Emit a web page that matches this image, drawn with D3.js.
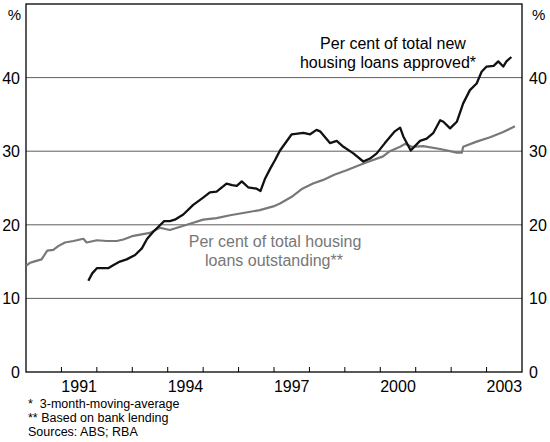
<!DOCTYPE html>
<html><head><meta charset="utf-8">
<script src="https://cdn.jsdelivr.net/npm/d3@7"></script>
<style>html,body{margin:0;padding:0;background:#fff;}svg{display:block;font-family:"Liberation Sans",Arial,sans-serif;}text{white-space:pre;}</style>
</head><body><svg id="c" width="550" height="442"></svg>
<script>
const outstandingDates = [1990.0,1990.1,1990.22,1990.44,1990.6,1990.77,1990.91,1991.1,1991.34,1991.62,1991.71,1992.0,1992.28,1992.56,1992.75,1993.03,1993.5,1993.78,1994.06,1994.54,1995.0,1995.38,1995.76,1996.13,1996.6,1996.98,1997.17,1997.5,1997.8,1998.1,1998.39,1998.7,1999.05,1999.35,1999.62,2000.08,2000.27,2000.56,2000.7,2000.89,2001.21,2001.69,2002.16,2002.3,2002.34,2002.72,2003.1,2003.47,2003.8];
const outstandingValues = [14.4,14.8,15.0,15.3,16.5,16.6,17.1,17.6,17.8,18.1,17.6,17.9,17.8,17.8,18.0,18.5,18.9,19.6,19.3,20.0,20.7,20.9,21.3,21.6,22.0,22.5,22.9,23.8,24.9,25.6,26.1,26.8,27.4,28.0,28.5,29.3,30.0,30.6,31.0,30.6,30.7,30.3,29.8,29.8,30.6,31.3,31.9,32.6,33.4];
const approvedDates = [1991.76,1991.87,1992.0,1992.32,1992.46,1992.65,1992.84,1993.08,1993.27,1993.42,1993.58,1993.73,1993.9,1994.06,1994.2,1994.44,1994.72,1995.0,1995.19,1995.38,1995.66,1995.82,1995.95,1996.09,1996.27,1996.51,1996.62,1996.75,1996.89,1997.03,1997.17,1997.5,1997.83,1998.02,1998.2,1998.3,1998.58,1998.77,1998.96,1999.24,1999.52,1999.71,1999.9,2000.13,2000.41,2000.56,2000.65,2000.86,2001.12,2001.31,2001.5,2001.69,2001.78,2001.97,2002.16,2002.34,2002.53,2002.72,2002.86,2003.0,2003.2,2003.33,2003.47,2003.56,2003.7];
const approvedValues = [12.4,13.4,14.1,14.1,14.5,15.0,15.3,15.9,16.8,18.1,19.0,19.7,20.5,20.5,20.7,21.4,22.7,23.7,24.4,24.5,25.6,25.4,25.3,25.9,25.1,24.9,24.6,26.3,27.6,28.8,30.1,32.3,32.5,32.3,32.9,32.7,31.1,31.4,30.6,29.7,28.6,29.0,29.7,31.1,32.7,33.2,32.0,30.1,31.4,31.7,32.5,34.2,34.0,33.1,34.0,36.5,38.3,39.2,40.8,41.5,41.6,42.2,41.5,42.2,42.8];
const yTicks = [0,10,20,30,40];
const yearTicks = [1991,1992,1993,1994,1995,1996,1997,1998,1999,2000,2001,2002,2003];
const yearLabels = [1991,1994,1997,2000,2003];
const footnotes = ["*  3-month-moving-average","** Based on bank lending","Sources: ABS; RBA"];

const svg = d3.select("#c");
const L = 26, R = 522, T = 4, B = 372;
const x = d3.scaleLinear().domain([1990, 2004]).range([L, R]);
const y = d3.scaleLinear().domain([0, 50]).range([B, T]);

svg.append("g").selectAll("line").data(yTicks.filter(d => d > 0)).join("line")
  .attr("x1", L).attr("x2", R).attr("y1", d => y(d)).attr("y2", d => y(d))
  .attr("stroke", "#5e5e5e").attr("stroke-width", 1);

svg.append("g").selectAll("line").data(yearTicks).join("line")
  .attr("x1", d => x(d)).attr("x2", d => x(d)).attr("y1", B).attr("y2", B - 5)
  .attr("stroke", "#000").attr("stroke-width", 1);

svg.append("rect").attr("x", L).attr("y", T).attr("width", R - L).attr("height", B - T)
  .attr("fill", "none").attr("stroke", "#000").attr("stroke-width", 1.3);

const line = d3.line().x(d => x(d[0])).y(d => y(d[1]));
svg.append("path").datum(d3.zip(outstandingDates, outstandingValues))
  .attr("d", line).attr("fill", "none").attr("stroke", "#787878").attr("stroke-width", 2.2).attr("stroke-linejoin", "round");
svg.append("path").datum(d3.zip(approvedDates, approvedValues))
  .attr("d", line).attr("fill", "none").attr("stroke", "#111").attr("stroke-width", 2.3).attr("stroke-linejoin", "round");

const fs = 16;
svg.append("g").selectAll("text").data(yTicks).join("text")
  .attr("x", L - 6).attr("y", d => y(d) + 6).attr("text-anchor", "end")
  .attr("font-size", fs).attr("fill", "#000").text(d => d);
svg.append("g").selectAll("text").data(yTicks).join("text")
  .attr("x", R + 7).attr("y", d => y(d) + 6).attr("text-anchor", "start")
  .attr("font-size", fs).attr("fill", "#000").text(d => d);
svg.append("text").attr("x", L - 5).attr("y", 20).attr("text-anchor", "end").attr("font-size", 15).text("%");
svg.append("text").attr("x", R + 10).attr("y", 20).attr("text-anchor", "start").attr("font-size", 15).text("%");

svg.append("g").selectAll("text").data(yearLabels).join("text")
  .attr("x", d => x(d + 0.5)).attr("y", 392).attr("text-anchor", "middle")
  .attr("font-size", fs).text(d => d);

const lab1 = svg.append("text").attr("text-anchor", "middle").attr("font-size", fs).attr("fill", "#000");
lab1.append("tspan").attr("x", 393).attr("y", 49).text("Per cent of total new");
lab1.append("tspan").attr("x", 388).attr("y", 68).text("housing loans approved*");
const lab2 = svg.append("text").attr("text-anchor", "middle").attr("font-size", fs).attr("fill", "#777");
lab2.append("tspan").attr("x", 275).attr("y", 247).text("Per cent of total housing");
lab2.append("tspan").attr("x", 274).attr("y", 266).text("loans outstanding**");

svg.append("g").selectAll("text").data(footnotes).join("text")
  .attr("x", 28).attr("y", (d, i) => 408 + i * 14).attr("font-size", 12.5).text(d => d);
</script></body></html>
